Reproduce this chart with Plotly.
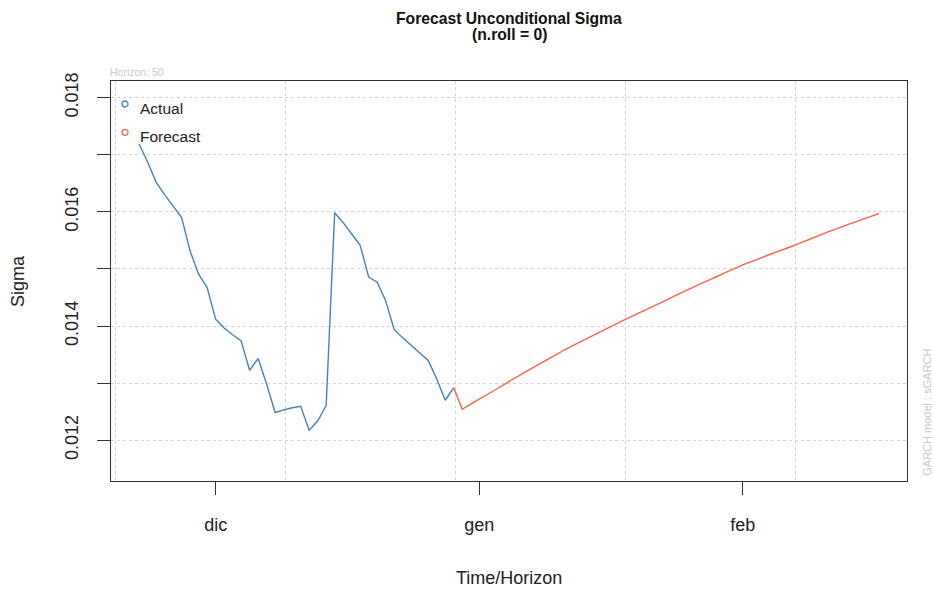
import pandas as pd
import plotly.graph_objects as go

# ---- data -------------------------------------------------------------
actual_dates = pd.date_range("2019-11-22", "2019-12-29", freq="D")
actual_sigma = [
    0.017188, 0.016873, 0.016522, 0.016302, 0.016102, 0.015902, 0.015313,
    0.014910, 0.014675, 0.014121, 0.013965, 0.013849, 0.013742, 0.013227,
    0.013432, 0.012982, 0.012486, 0.012531, 0.012570, 0.012596, 0.012175,
    0.012338, 0.012613, 0.015984, 0.015811, 0.015613, 0.015416, 0.014857,
    0.014769, 0.014445, 0.013937, 0.013795, 0.013665, 0.013530, 0.013397,
    0.013076, 0.012701, 0.012924,
]

forecast_dates = pd.date_range("2019-12-30", periods=50, freq="D")
forecast_sigma = [
    0.012543, 0.012633, 0.012720, 0.012806, 0.012894, 0.012985, 0.013073,
    0.013159, 0.013245, 0.013329, 0.013413, 0.013497, 0.013581, 0.013658,
    0.013732, 0.013805, 0.013881, 0.013954, 0.014030, 0.014103, 0.014175,
    0.014245, 0.014314, 0.014384, 0.014456, 0.014529, 0.014601, 0.014670,
    0.014738, 0.014806, 0.014873, 0.014940, 0.015006, 0.015071, 0.015129,
    0.015187, 0.015245, 0.015301, 0.015355, 0.015411, 0.015471, 0.015530,
    0.015590, 0.015649, 0.015704, 0.015758, 0.015811, 0.015865, 0.015918,
    0.015972,
]

x_tick_vals = ["2019-12-01", "2020-01-01", "2020-02-01"]
x_tick_text = ["dic", "gen", "feb"]
x_grid_vals = ["2019-11-19 04:00", "2019-12-09 04:00", "2019-12-29 04:00",
               "2020-01-18 04:00", "2020-02-07 04:00"]

y_tick_vals = [0.012, 0.013, 0.014, 0.015, 0.016, 0.017, 0.018]
y_tick_text = ["0.012", "", "0.014", "", "0.016", "", "0.018"]

x_range = ["2019-11-18 16:40", "2020-02-20 07:26"]
y_range = [0.0112866, 0.0182927]

horizon = len(forecast_sigma)

# ---- styling ----------------------------------------------------------
FONT = "Liberation Sans, Arial, sans-serif"
BLUE = "#4682B4"
RED = "#FF6347"
GRID = "#d3d3d3"
AXIS = "#333333"
FAINT = "#c8c8c8"

fig = go.Figure()

fig.add_trace(go.Scatter(
    x=actual_dates, y=actual_sigma, mode="lines",
    line=dict(color=BLUE, width=1.4, simplify=False), showlegend=False,
))

# forecast path continues from the last observed sigma
fig.add_trace(go.Scatter(
    x=[actual_dates[-1]] + list(forecast_dates),
    y=[actual_sigma[-1]] + forecast_sigma,
    mode="lines", line=dict(color=RED, width=1.4, simplify=False),
    showlegend=False,
))

fig.update_xaxes(
    type="date", range=x_range,
    tickmode="array", tickvals=x_tick_vals, ticktext=x_tick_text,
    ticks="outside", ticklen=13, tickwidth=1, tickcolor=AXIS,
    tickfont=dict(family=FONT, size=18, color="#222222"),
    ticklabelstandoff=14,
    showline=True, mirror=True, linecolor=AXIS, linewidth=1.2,
    showgrid=False, zeroline=False,
    minor=dict(tickvals=x_grid_vals, showgrid=True, gridcolor=GRID,
               griddash="3px,3px", gridwidth=1, ticks=""),
)

fig.update_yaxes(
    range=y_range,
    tickmode="array", tickvals=y_tick_vals, ticktext=y_tick_text,
    tickangle=-90,
    ticks="outside", ticklen=13, tickwidth=1, tickcolor=AXIS,
    tickfont=dict(family=FONT, size=18, color="#222222"),
    ticklabelstandoff=12,
    showline=True, mirror=True, linecolor=AXIS, linewidth=1.2,
    showgrid=True, gridcolor=GRID, griddash="3px,3px", gridwidth=1,
    zeroline=False,
)

annotations = [
    dict(text="<b>Forecast Unconditional Sigma</b>", x=0.5, y=1.1569,
         font=dict(size=15.7, color="#111111")),
    dict(text="<b>(n.roll = 0)</b>", x=0.5, y=1.1151,
         font=dict(size=15.7, color="#111111")),
    dict(text="Horizon: " + str(horizon), x=-0.004, y=1.0218, xanchor="left",
         font=dict(size=10.5, color=FAINT)),
    dict(text="GARCH model : sGARCH", x=1.0251, y=0.0093, textangle=-90,
         yanchor="bottom", font=dict(size=11, color=FAINT)),
    dict(text="Sigma", x=-0.1169, y=0.5, textangle=-90,
         font=dict(size=18, color="#222222")),
    dict(text="Time/Horizon", x=0.5, y=-0.2434,
         font=dict(size=18, color="#222222")),
    dict(text="Actual", x=0.0336, y=0.9312, xanchor="left",
         font=dict(size=15.5, color="#222222")),
    dict(text="Forecast", x=0.0336, y=0.8617, xanchor="left",
         font=dict(size=15.5, color="#222222")),
]
for a in annotations:
    a.setdefault("xref", "paper")
    a.setdefault("yref", "paper")
    a.setdefault("xanchor", "center")
    a.setdefault("yanchor", "middle")
    a["showarrow"] = False
    a["font"]["family"] = FONT

# legend key circles
shapes = []
for yc, col in [(0.9425, BLUE), (0.8717, RED)]:
    shapes.append(dict(
        type="circle", xref="paper", yref="paper",
        xsizemode="pixel", ysizemode="pixel",
        xanchor=0.0176, yanchor=yc, x0=-3, x1=3, y0=-3, y1=3,
        line=dict(color=col, width=1.3),
    ))

fig.update_layout(
    width=933, height=591,
    margin=dict(l=111, r=26, t=81, b=110),
    paper_bgcolor="white", plot_bgcolor="white",
    font=dict(family=FONT),
    annotations=annotations, shapes=shapes,
    showlegend=False,
)

fig.write_html("out.html")
